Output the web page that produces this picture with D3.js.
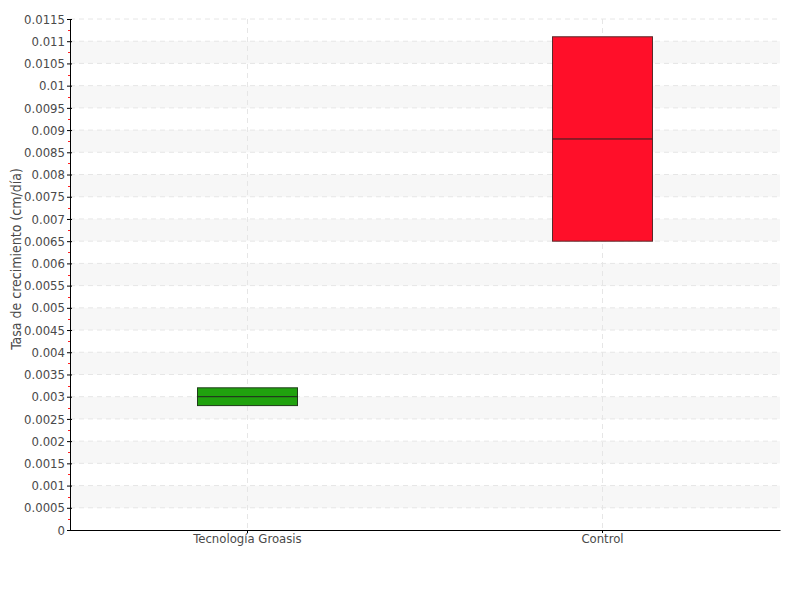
<!DOCTYPE html>
<html>
<head>
<meta charset="utf-8">
<script src="https://cdn.jsdelivr.net/npm/d3@7"></script>
<style>
  body { margin: 0; background: #fff; }
  text { font-family: "DejaVu Sans Condensed", "Liberation Sans Narrow", sans-serif; fill: #4a4a4a; }
</style>
</head>
<body>
<svg id="chart" width="800" height="600"></svg>
<script>
// data
let categories = ["Tecnología Groasis", "Control"];
let q1 = [0.0028, 0.0065];
let median = [0.003, 0.0088];
let q3 = [0.0032, 0.0111];
let colors = ["#20a20e", "#ff0f29"];
let strokes = ["#1f3d1a", "#5a2a2a"];
let yTicks = d3.range(0, 0.01151, 0.0005);

let margin = {left: 70, right: 20, top: 19, bottom: 70};
let width = 800, height = 600;

let svg = d3.select("#chart");

let x = d3.scaleBand().domain(categories).range([margin.left, width - margin.right]);
let y = d3.scaleLinear().domain([0, 0.0115]).range([height - margin.bottom, margin.top]);

// alternating bands
let bands = yTicks.slice(1).filter((d, i) => i % 2 === 0 && d + 0.0005 <= 0.0115 + 1e-9);
svg.append("g").selectAll("rect")
    .data(bands)
    .enter().append("rect")
    .attr("x", margin.left)
    .attr("width", width - margin.right - margin.left)
    .attr("y", d => y(d + 0.0005))
    .attr("height", d => y(d) - y(d + 0.0005))
    .style("fill", "#f7f7f7");

// grid lines
svg.append("g").selectAll("line")
    .data(yTicks.slice(1))
    .enter().append("line")
    .attr("x1", margin.left).attr("x2", width - margin.right)
    .attr("y1", d => y(d)).attr("y2", d => y(d))
    .style("stroke", "#e6e6e6")
    .style("stroke-dasharray", "5,4");

svg.append("g").selectAll("line")
    .data(categories)
    .enter().append("line")
    .attr("x1", d => x(d) + x.bandwidth()/2).attr("x2", d => x(d) + x.bandwidth()/2)
    .attr("y1", margin.top).attr("y2", height - margin.bottom)
    .style("stroke", "#e6e6e6")
    .style("stroke-dasharray", "5,4");

// boxes
let boxWidth = 100;
let boxes = svg.append("g").selectAll("g")
    .data(categories)
    .enter().append("g");

boxes.append("rect")
    .attr("x", d => x(d) + x.bandwidth()/2 - boxWidth/2)
    .attr("width", boxWidth)
    .attr("y", (d, i) => y(q3[i]))
    .attr("height", (d, i) => y(q1[i]) - y(q3[i]))
    .style("fill", (d, i) => colors[i])
    .style("stroke", (d, i) => strokes[i])
    .style("stroke-width", 1);

boxes.append("line")
    .attr("x1", d => x(d) + x.bandwidth()/2 - boxWidth/2)
    .attr("x2", d => x(d) + x.bandwidth()/2 + boxWidth/2)
    .attr("y1", (d, i) => y(median[i]))
    .attr("y2", (d, i) => y(median[i]))
    .style("stroke", "#222")
    .style("stroke-width", 1);

// minor ticks (red)
let minor = yTicks.map(d => d + 0.00025).filter(d => d < 0.0115);
svg.append("g").selectAll("line")
    .data(minor)
    .enter().append("line")
    .attr("x1", margin.left - 2).attr("x2", margin.left)
    .attr("y1", d => Math.round(y(d)) + 0.5).attr("y2", d => Math.round(y(d)) + 0.5)
    .style("stroke", "#ff2020");

// y axis
let yAxis = svg.append("g")
    .attr("transform", "translate(" + margin.left + ",0)")
    .call(d3.axisLeft(y).tickValues(yTicks).tickSize(3).tickSizeOuter(0).tickFormat(d => +d.toFixed(4)));
yAxis.select(".domain").style("stroke", "#000");
yAxis.selectAll(".tick line").attr("x2", 2).attr("x1", -3).style("stroke", "#000");
yAxis.selectAll("text").style("font-size", "13px").attr("x", -5);

// x axis
let xAxis = svg.append("g")
    .attr("transform", "translate(0," + (height - margin.bottom) + ")")
    .call(d3.axisBottom(x).tickSize(3).tickSizeOuter(0));
xAxis.select(".domain").style("stroke", "#000");
xAxis.selectAll(".tick line").style("stroke", "#000");
xAxis.selectAll("text").style("font-size", "13px").attr("y", 4);

// axis label
svg.append("text")
    .attr("transform", "translate(21,259) rotate(-90)")
    .attr("text-anchor", "middle")
    .style("font-size", "14px")
    .text("Tasa de crecimiento (cm/día)");
</script>
</body>
</html>
